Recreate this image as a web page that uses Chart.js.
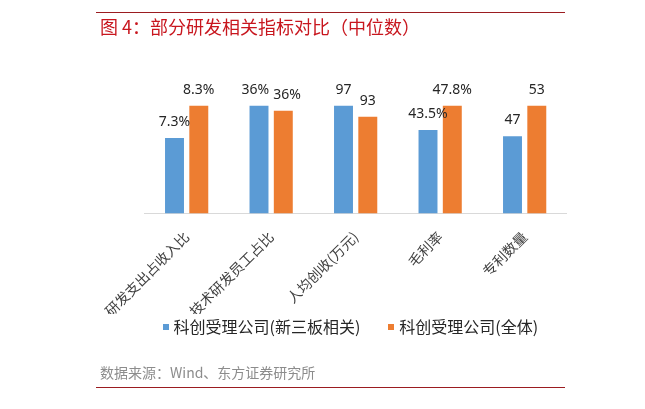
<!DOCTYPE html>
<html>
<head>
<meta charset="utf-8">
<script src="https://cdn.jsdelivr.net/npm/chart.js@4"></script>
<style>
  body { margin: 0; background: #fff; }
  #wrap { position: relative; width: 645px; height: 409px; font-family: "Noto Sans CJK SC", "Noto Sans", sans-serif; }
  #chart { position: absolute; left: 0; top: 0; }
  .rule { position: absolute; left: 96px; width: 469px; height: 1.5px; background: #9b1c20; }
  #title { position: absolute; left: 100px; top: 15px; font-size: 18px; line-height: 22px; color: #c8161e; white-space: nowrap; }
  #legend { position: absolute; left: 162.5px; top: 315px; font-size: 16px; line-height: 22px; color: #262626; white-space: nowrap; }
  #legend span.item { margin-right: 28px; }
  #legend i { display: inline-block; width: 6px; height: 6px; margin-right: 5px; vertical-align: 3px; }
  #source { position: absolute; left: 100px; top: 363px; font-size: 14px; line-height: 18px; color: #8c8c8c; white-space: nowrap; }
</style>
</head>
<body>
<div id="wrap">
  <canvas id="chart" width="645" height="409"></canvas>
  <div class="rule" style="top:11.5px"></div>
  <div id="title">图 4：部分研发相关指标对比（中位数）</div>
  <div id="legend"></div>
  <div id="source">数据来源：Wind、东方证券研究所</div>
  <div class="rule" style="top:386.5px"></div>
</div>
<script>
var categories = ["研发支出占收入比", "技术研发员工占比", "人均创收(万元)", "毛利率", "专利数量"];
var seriesNames = ["科创受理公司(新三板相关)", "科创受理公司(全体)"];
var neeqValues = [7.3, 36.4, 97, 43.5, 47];
var allValues = [8.3, 35.7, 93, 47.8, 53];
var units = ["%", "%", "", "%", ""];
var decimals = [1, 0, 0, 1, 0];
var colors = ["#5b9bd5", "#ed7d31"];

// each category is scaled to its own larger value (hidden axis)
function relative(values, i) {
  return values[i] / Math.max(neeqValues[i], allValues[i]);
}
var neeqRel = neeqValues.map(function (v, i) { return relative(neeqValues, i); });
var allRel = allValues.map(function (v, i) { return relative(allValues, i); });
var rawValues = [neeqValues, allValues];

var valueLabels = {
  id: "valueLabels",
  afterDatasetsDraw: function (chart) {
    var ctx = chart.ctx;
    ctx.save();
    ctx.font = '14px "Noto Sans", "Noto Sans CJK SC", sans-serif';
    ctx.fillStyle = "#262626";
    ctx.textAlign = "center";
    ctx.textBaseline = "alphabetic";
    var a = chart.getDatasetMeta(0).data;
    var b = chart.getDatasetMeta(1).data;
    categories.forEach(function (c, i) {
      var ta = rawValues[0][i].toFixed(decimals[i]) + units[i];
      var tb = rawValues[1][i].toFixed(decimals[i]) + units[i];
      var xa = a[i].x, xb = b[i].x;
      var ya = a[i].y - 12, yb = b[i].y - 12;
      // push apart labels that would collide at similar heights
      var overlap = (ctx.measureText(ta).width + ctx.measureText(tb).width) / 2 + 4 - (xb - xa);
      if (overlap > 0 && Math.abs(ya - yb) < 16) {
        xa -= overlap / 2;
        xb += overlap / 2;
      }
      ctx.fillText(ta, xa, ya);
      ctx.fillText(tb, xb, yb);
    });
    ctx.restore();
  },
};

var ctx = document.getElementById("chart").getContext("2d");
var chart = new Chart(ctx, {
  type: "bar",
  data: {
    labels: categories,
    datasets: [
      {
        label: seriesNames[0],
        data: neeqRel,
        backgroundColor: colors[0],
        categoryPercentage: 0.575,
        barPercentage: 0.78,
      },
      {
        label: seriesNames[1],
        data: allRel,
        backgroundColor: colors[1],
        categoryPercentage: 0.575,
        barPercentage: 0.78,
      },
    ],
  },
  options: {
    responsive: false,
    animation: false,
    layout: {
      padding: { left: 144.4, right: 78.1, top: 78.8, bottom: 95 },
    },
    scales: {
      y: {
        display: false,
        min: 0.6,
        max: 1.1,
      },
      x: {
        grid: { display: false },
        border: { color: "#d9d9d9", width: 1 },
        ticks: {
          color: "#404040",
          font: { family: '"Noto Sans CJK SC", sans-serif', size: 14 },
          minRotation: 45,
          maxRotation: 45,
          padding: 7,
        },
        afterFit: function (scale) {
          scale.height = 100.7;
        },
      },
    },
    plugins: {
      legend: { display: false },
      tooltip: { enabled: false },
    },
  },
  plugins: [valueLabels],
});

// legend as text below the chart
var legend = document.getElementById("legend");
chart.data.datasets.forEach(function (ds) {
  var item = document.createElement("span");
  item.className = "item";
  var box = document.createElement("i");
  box.style.background = ds.backgroundColor;
  item.appendChild(box);
  item.appendChild(document.createTextNode(ds.label));
  legend.appendChild(item);
});
</script>
</body>
</html>
